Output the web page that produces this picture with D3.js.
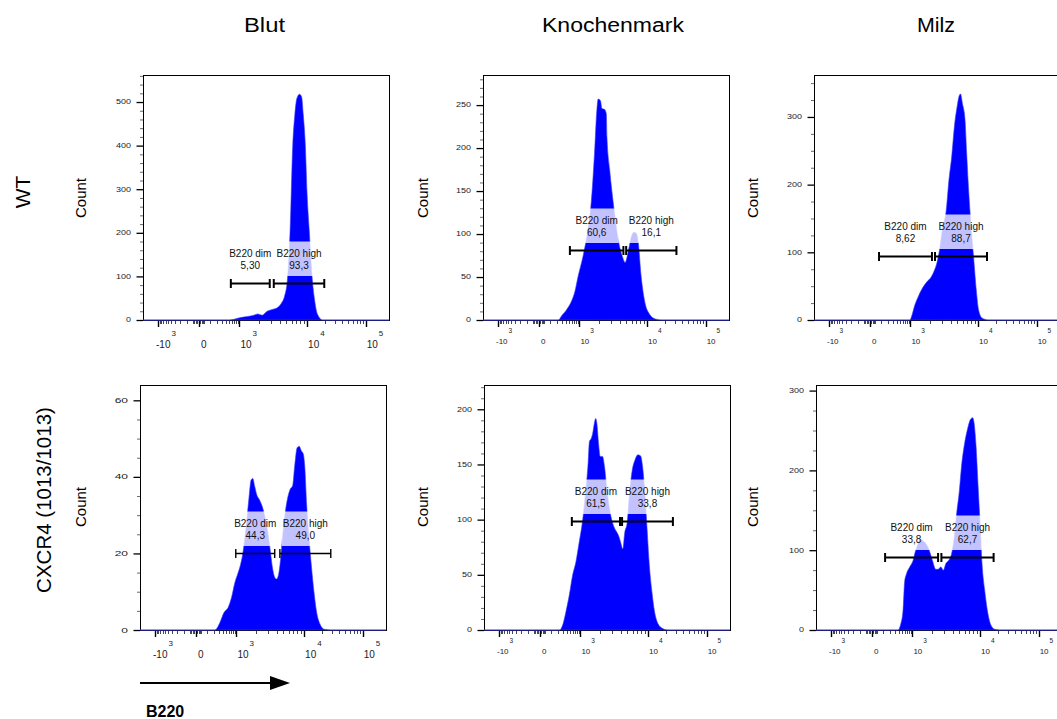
<!DOCTYPE html>
<html><head><meta charset="utf-8">
<script src="https://cdn.jsdelivr.net/npm/d3@7"></script>
<style>
body{margin:0;background:#fff;overflow:hidden}
text{font-family:"Liberation Sans",Arial,sans-serif}
</style>
</head><body>
<svg id="c" width="1057" height="719"></svg>
<script>
// ---------------- data ----------------
const tissues = ["Blut", "Knochenmark", "Milz"];
const genotypes = ["WT", "CXCR4 (1013/1013)"];
const yAxisLabel = "Count";
const xAxisLabel = "B220";

const xTickValues = [-1000, 0, 1000, 10000, 100000];
const xTickLabels = [["-10", "3"], ["0", ""], ["10", "3"], ["10", "4"], ["10", "5"]];
const xMinorTicks = [-900, -800, -700, -600, -500, -400, -300, -200, -100, -40, -30, -20, -10,
  10, 20, 30, 40, 100, 200, 300, 400, 500, 600, 700, 800, 900,
  2000, 3000, 4000, 5000, 6000, 7000, 8000, 9000,
  20000, 30000, 40000, 50000, 60000, 70000, 80000, 90000];

// WT – Blut
const wtBlutB220 = [504, 714, 1000, 1327, 1667, 1910, 2213, 2626, 3112, 3688, 4227, 4732, 5180, 5675, 6211, 6653, 7117, 7795, 8340, 8828, 9443, 10000, 10960, 12170, 13330, 15200, 18490];
const wtBlutCount = [0, 2, 5, 8, 11, 14, 11, 20, 24, 28, 38, 55, 90, 200, 400, 470, 508, 518, 512, 470, 400, 290, 200, 100, 50, 12, 0];
const wtBlutGates = [{name: "B220 dim", pct: "5,30", lo: 564, hi: 2871, level: 85},
                     {name: "B220 high", pct: "93,3", lo: 3289, hi: 19700, level: 85}];

// WT – Knochenmark
const wtKmB220 = [219, 288, 417, 592, 740, 919, 1136, 1351, 1517, 1703, 1846, 1932, 2097, 2197, 2410, 2553, 2612, 2864, 3296, 3914, 4393, 4816, 5415, 5940, 6440, 6982, 7482, 8120, 9120, 10940, 14170, 18320];
const wtKmCount = [0, 5, 12, 22, 33, 51, 74, 105, 136, 194, 244, 257, 255, 246, 245, 240, 213, 175, 131, 89, 74, 67, 82, 97, 102, 101, 90, 55, 24, 7, 1, 0];
const wtKmGates = [{name: "B220 dim", pct: "60,6", lo: 528, hi: 4550, level: 81},
                   {name: "B220 high", pct: "16,1", lo: 4990, hi: 31800, level: 81}];

// WT – Milz
const wtMilzB220 = [960, 1071, 1160, 1301, 1510, 1773, 2058, 2307, 2500, 2739, 3073, 3446, 3777, 4140, 4589, 4974, 5325, 5575, 5971, 6471, 6855, 7262, 7693, 8618, 9449, 10260, 11690, 15170];
const wtMilzCount = [0, 9, 21, 33, 46, 56, 63, 73, 83, 102, 137, 161, 206, 240, 290, 315, 331, 334, 319, 297, 246, 197, 157, 93, 43, 14, 3, 0];
const wtMilzGates = [{name: "B220 dim", pct: "8,62", lo: 74, hi: 2128, level: 94},
                     {name: "B220 high", pct: "88,7", lo: 2362, hi: 14220, level: 94}];

// CXCR4 – Blut
const muBlutB220 = [210, 315, 425, 576, 721, 898, 1059, 1122, 1259, 1413, 1549, 1679, 1778, 1905, 2042, 2239, 2512, 2754, 2985, 3236, 3467, 3715, 3981, 4266, 4571, 4898, 5188, 5623, 6310, 6839, 7328, 7943, 8511, 9120, 9772, 10270, 11110, 12190, 13360, 14840, 16480, 18790, 22020, 28640];
const muBlutCount = [0, 1.9, 4.5, 5.9, 8.4, 12.3, 14.9, 16.2, 20.1, 27.1, 34.0, 39.2, 39.6, 37.5, 35.3, 34.0, 31.8, 28.8, 25.3, 20.8, 16.5, 14.0, 13.3, 14.4, 18.4, 24.5, 28.8, 33.3, 36.8, 37.7, 42.9, 47.6, 48.0, 46.8, 45.9, 42.8, 32.4, 23.7, 16.7, 9.7, 4.5, 1.5, 0.2, 0];
const muBlutGates = [{name: "B220 dim", pct: "44,3", lo: 959, hi: 3758, level: 20},
                     {name: "B220 high", pct: "49,0", lo: 4467, hi: 28640, level: 20}];

// CXCR4 – Knochenmark
const muKmB220 = [219, 288, 369, 470, 592, 740, 919, 1071, 1200, 1315, 1377, 1472, 1542, 1633, 1710, 1787, 1892, 2004, 2171, 2323, 2518, 2818, 3162, 3548, 3750, 4018, 4305, 4603, 4989, 5404, 5921, 6486, 7102, 7780, 8336, 8919, 9555, 10520, 11660, 12930, 14710, 17630, 21380];
const muKmCount = [0, 4.5, 16.5, 31.4, 49.4, 61.4, 79.3, 97.3, 124.3, 151.2, 170.7, 173.7, 178.1, 187.1, 191.6, 187.1, 169.2, 157.2, 157.2, 148.2, 127.2, 106.3, 94.3, 88.3, 85.3, 79.3, 73.4, 88.3, 97.3, 124.3, 145.2, 154.2, 158.7, 157.8, 148.2, 127.2, 97.3, 58.4, 34.4, 16.5, 6.0, 1.5, 0];
const muKmGates = [{name: "B220 dim", pct: "61,5", lo: 564, hi: 3926, level: 99},
                   {name: "B220 high", pct: "33,8", lo: 4207, hi: 26600, level: 99}];

// CXCR4 – Milz
const muMilzB220 = [369, 450, 532, 597, 670, 839, 1023, 1107, 1212, 1313, 1438, 1611, 1804, 2020, 2263, 2450, 2683, 2938, 3178, 3562, 3855, 4227, 4624, 5012, 5420, 5933, 6648, 7278, 7798, 8147, 8730, 9333, 10000, 10810, 11990, 13310, 15170, 17740, 21530];
const muMilzCount = [0, 7, 24, 61, 70, 79, 87, 98, 107, 114, 112, 108, 100, 87, 76, 76, 79, 75, 83, 88, 95, 116, 149, 174, 207, 232, 253, 264, 266, 261, 232, 183, 133, 83, 50, 25, 7, 1, 0];
const muMilzGates = [{name: "B220 dim", pct: "33,8", lo: 121, hi: 2450, level: 92},
                     {name: "B220 high", pct: "62,7", lo: 2742, hi: 17060, level: 92}];

// y axes
const yMaxes = [562, 285, 362, 64, 222, 307];
const yMajorTicks = [[0, 100, 200, 300, 400, 500], [0, 50, 100, 150, 200, 250], [0, 100, 200, 300],
                     [0, 20, 40, 60], [0, 50, 100, 150, 200], [0, 100, 200, 300]];
const yMinorSteps = [20, 10, 25, 5, 10, 25];

const histB220 = [wtBlutB220, wtKmB220, wtMilzB220, muBlutB220, muKmB220, muMilzB220];
const histCount = [wtBlutCount, wtKmCount, wtMilzCount, muBlutCount, muKmCount, muMilzCount];
const histGates = [wtBlutGates, wtKmGates, wtMilzGates, muBlutGates, muKmGates, muMilzGates];

// ---------------- layout ----------------
const svg = d3.select("#c");
const W = 246, H = 246;
const lefts = [[143, 483, 814], [140, 484, 816]];
const tops = [75, 385];
const tickFrac = [0.061, 0.226, 0.392, 0.667, 0.905];
const countX = [86, 428, 758];
const countY = [198, 507];

// titles
const titleCx = [264.5, 613, 936];
const titleLen = [41, 142, 38];
tissues.forEach((t, i) => {
  svg.append("text").attr("x", titleCx[i]).attr("y", 32).attr("text-anchor", "middle")
    .attr("font-size", 20).attr("textLength", titleLen[i]).attr("lengthAdjust", "spacingAndGlyphs")
    .attr("fill", "#000").text(t);
});
// row labels
const rowLbl = [{x: 30, y: 192, fs: 21}, {x: 50.5, y: 500, fs: 20.5}];
genotypes.forEach((g, i) => {
  svg.append("text").attr("transform", `translate(${rowLbl[i].x},${rowLbl[i].y}) rotate(-90)`)
    .attr("text-anchor", "middle").attr("font-size", rowLbl[i].fs).attr("fill", "#000").text(g);
});

const defs = svg.append("defs");

histB220.forEach((xs, p) => {
  const row = Math.floor(p / 3), col = p % 3;
  const L = lefts[row][col], T = tops[row], B = T + H;
  const x = d3.scaleSymlog().constant(100).domain(xTickValues).range(tickFrac.map(f => L + f * W));
  const y = d3.scaleLinear().domain([0, yMaxes[p]]).range([B - 1, T]);
  const g = svg.append("g");

  // clip
  defs.append("clipPath").attr("id", "cl" + p).append("rect")
    .attr("x", L).attr("y", T).attr("width", W).attr("height", H);

  // frame
  g.append("rect").attr("x", L + 0.5).attr("y", T + 0.5).attr("width", W).attr("height", H - 1)
    .attr("fill", "none").attr("stroke", "#000").attr("stroke-width", 1);

  // histogram
  const pts = xs.map((v, i) => [v, histCount[p][i]]);
  const full = [[x.invert(L), 0], ...pts, [x.invert(L + W), 0]];
  const area = d3.area().x(d => x(d[0])).y0(y(0)).y1(d => y(d[1])).curve(d3.curveMonotoneX);
  g.append("path").attr("d", area(full)).attr("fill", "#0000ff")
    .attr("stroke", "#3a3aff").attr("stroke-width", 0.6).attr("clip-path", `url(#cl${p})`);

  // y axis ticks
  const yMinor = d3.range(0, yMaxes[p] + 0.001, yMinorSteps[p]).filter(v => !yMajorTicks[p].includes(v));
  g.selectAll(null).data(yMinor).join("line")
    .attr("x1", L - 3).attr("x2", L).attr("y1", d => y(d) + 0.5).attr("y2", d => y(d) + 0.5)
    .attr("stroke", "#444").attr("stroke-width", 0.8);
  g.selectAll(null).data(yMajorTicks[p]).join("line")
    .attr("x1", L - 6.5).attr("x2", L).attr("y1", d => y(d) + 0.5).attr("y2", d => y(d) + 0.5)
    .attr("stroke", "#000").attr("stroke-width", 1.3);
  const big = (p === 3);
  g.selectAll(null).data(yMajorTicks[p]).join("text")
    .attr("transform", d => `translate(${L - 12},${y(d)}) scale(1,${big ? 0.6 : 0.72})`)
    .attr("text-anchor", "end").attr("dy", "0.36em")
    .attr("font-size", big ? 12 : 9).attr("fill", "#222").text(d => d);

  // x axis ticks
  g.selectAll(null).data(xMinorTicks).join("line")
    .attr("x1", d => Math.round(x(d)) + 0.5).attr("x2", d => Math.round(x(d)) + 0.5)
    .attr("y1", B).attr("y2", B + 3).attr("stroke", "#333").attr("stroke-width", 0.9);
  g.selectAll(null).data(xTickValues).join("line")
    .attr("x1", d => Math.round(x(d)) + 0.5).attr("x2", d => Math.round(x(d)) + 0.5)
    .attr("y1", B).attr("y2", B + 6).attr("stroke", "#000").attr("stroke-width", 1.4);
  const bigX = col === 0;
  const baseFs = bigX ? 10 : 8, supFs = bigX ? 8 : 6.5;
  const baseY = B + (bigX ? 27 : 22.5), supY = B + (bigX ? 15 : 12);
  xTickValues.forEach((v, i) => {
    const lab = xTickLabels[i];
    const off = v === 0 ? 2.5 : (v < 0 ? -2 : 1);
    const t = g.append("text").attr("x", x(v) + off).attr("y", baseY)
      .attr("font-size", baseFs).attr("fill", "#222");
    t.append("tspan").text(lab[0]);
    if (lab[1]) t.append("tspan").attr("dx", 1).attr("y", supY).attr("font-size", supFs).text(lab[1]);
  });

  // Count label
  svg.append("text").attr("transform", `translate(${countX[col]},${countY[row]}) rotate(-90)`)
    .attr("text-anchor", "middle").attr("font-size", 15).attr("fill", "#000").text(yAxisLabel);

  // gates
  histGates[p].forEach(gt => {
    const x0 = x(gt.lo), x1 = x(gt.hi), by = Math.round(y(gt.level)) + 0.5, cx = (x0 + x1) / 2;
    const lg = g.append("g");
    const box = lg.append("rect");
    const t1 = lg.append("text").attr("x", cx).attr("y", by - 27).attr("text-anchor", "middle")
      .attr("font-size", 10).attr("fill", "#111").text(gt.name);
    const t2 = lg.append("text").attr("x", cx).attr("y", by - 14.5).attr("text-anchor", "middle")
      .attr("font-size", 10).attr("fill", "#111").text(gt.pct);
    const bb = t1.node().getBBox();
    box.attr("x", bb.x - 1).attr("width", bb.width + 2).attr("y", by - 42).attr("height", 34.5)
      .attr("fill", "#fff").attr("fill-opacity", 0.76);
    const sw = p === 3 ? 1.4 : 2;
    g.append("line").attr("x1", x0).attr("x2", x1).attr("y1", by).attr("y2", by)
      .attr("stroke", "#000").attr("stroke-width", sw);
    [x0, x1].forEach(xx => g.append("line").attr("x1", xx).attr("x2", xx)
      .attr("y1", by - 4.5).attr("y2", by + 4.5).attr("stroke", "#000").attr("stroke-width", sw));
  });
});

// B220 arrow
svg.append("line").attr("x1", 140).attr("x2", 274).attr("y1", 683).attr("y2", 683)
  .attr("stroke", "#000").attr("stroke-width", 2);
svg.append("path").attr("d", "M270,676 L290,683 L270,690 Z").attr("fill", "#000");
svg.append("text").attr("x", 146).attr("y", 717).attr("font-size", 16).attr("font-weight", "bold")
  .attr("fill", "#000").text(xAxisLabel);
</script>
</body></html>
